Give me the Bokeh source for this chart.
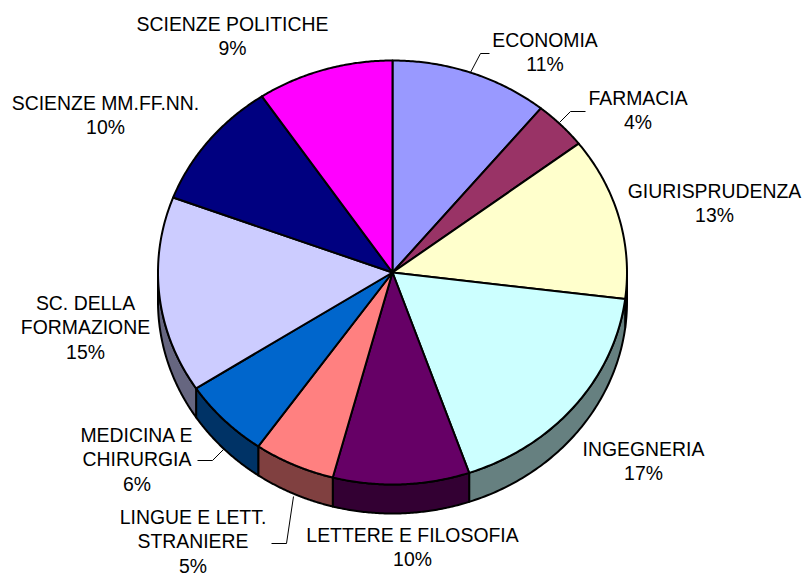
import numpy as np
from bokeh.plotting import figure
from bokeh.models import Range1d
from bokeh.core.properties import value
from bokeh.embed import file_html
from bokeh.resources import INLINE

categories = ["ECONOMIA", "FARMACIA", "GIURISPRUDENZA", "INGEGNERIA", "LETTERE E FILOSOFIA",
              "LINGUE E LETT. STRANIERE", "MEDICINA E CHIRURGIA", "SC. DELLA FORMAZIONE",
              "SCIENZE MM.FF.NN.", "SCIENZE POLITICHE"]
shares = [10.9, 3.7, 12.4, 17.7, 9.4, 5.6, 6.1, 14.95, 9.85, 9.4]
percent_labels = ["11%", "4%", "13%", "17%", "10%", "5%", "6%", "15%", "10%", "9%"]
top_colors = ["#9999FF", "#993366", "#FFFFCC", "#CCFFFF", "#660066",
              "#FF8080", "#0066CC", "#CCCCFF", "#000080", "#FF00FF"]
side_colors = ["#4D4D80", "#4D1A33", "#808066", "#668080", "#330033",
               "#804040", "#003366", "#666680", "#000040", "#800080"]

label_lines = [["ECONOMIA"], ["FARMACIA"], ["GIURISPRUDENZA"], ["INGEGNERIA"], ["LETTERE E FILOSOFIA"],
               ["LINGUE E LETT.", "STRANIERE"], ["MEDICINA E", "CHIRURGIA"], ["SC. DELLA", "FORMAZIONE"],
               ["SCIENZE MM.FF.NN."], ["SCIENZE POLITICHE"]]
label_x = [544.5, 637.5, 714, 643, 412, 192.5, 136.5, 85, 105, 232]
label_y = [39, 97, 190, 448, 534, 516, 434, 302, 102, 23]
LINE_H = 24.5

leaders = [([470, 480, 489], [72, 53, 53]),
           ([559, 570, 585], [122, 111, 111]),
           ([223, 212, 197], [449, 460, 460]),
           ([293, 286, 271], [496, 543, 543])]

CX, CY, RX, RY, DEPTH = 392.0, 272.0, 234.5, 212.0, 29.0

p = figure(width=804, height=573, output_backend="svg", toolbar_location=None,
           x_range=Range1d(0, 804), y_range=Range1d(573, 0), min_border=0)
p.axis.visible = False
p.grid.visible = False
p.outline_line_color = None


def arc(a, b, dy=0.0, n=80):
    t = np.radians(np.linspace(a, b, n))
    return CX + RX * np.sin(t), CY - RY * np.cos(t) + dy


edges = np.concatenate([[0], np.cumsum(shares)]) / sum(shares) * 360

# side wall
for i in range(len(shares)):
    a, b = max(edges[i], 90), min(edges[i + 1], 270)
    if b <= a:
        continue
    x1, y1 = arc(a, b)
    x2, y2 = arc(b, a, DEPTH)
    p.patch(np.concatenate([x1, x2]), np.concatenate([y1, y2]), fill_color=side_colors[i],
            line_color="black", line_width=2, line_join="round")

# top face
for i in range(len(shares)):
    x, y = arc(edges[i], edges[i + 1])
    p.patch(np.concatenate([[CX], x]), np.concatenate([[CY], y]), fill_color=top_colors[i],
            line_color="black", line_width=2, line_join="round")

# leader lines
for lx, ly in leaders:
    p.line(lx, ly, line_color="black", line_width=1)

# labels
tx, ty, tt = [], [], []
for i, lines in enumerate(label_lines):
    rows = lines + [percent_labels[i]]
    for j, row in enumerate(rows):
        tx.append(label_x[i])
        ty.append(label_y[i] + j * LINE_H)
        tt.append(row)
p.text(tx, ty, text=tt, text_align="center", text_baseline="middle",
       text_font=value("Liberation Sans"), text_font_size="19.4px", text_color="black")

open("out.html", "w").write(file_html(p, INLINE))
